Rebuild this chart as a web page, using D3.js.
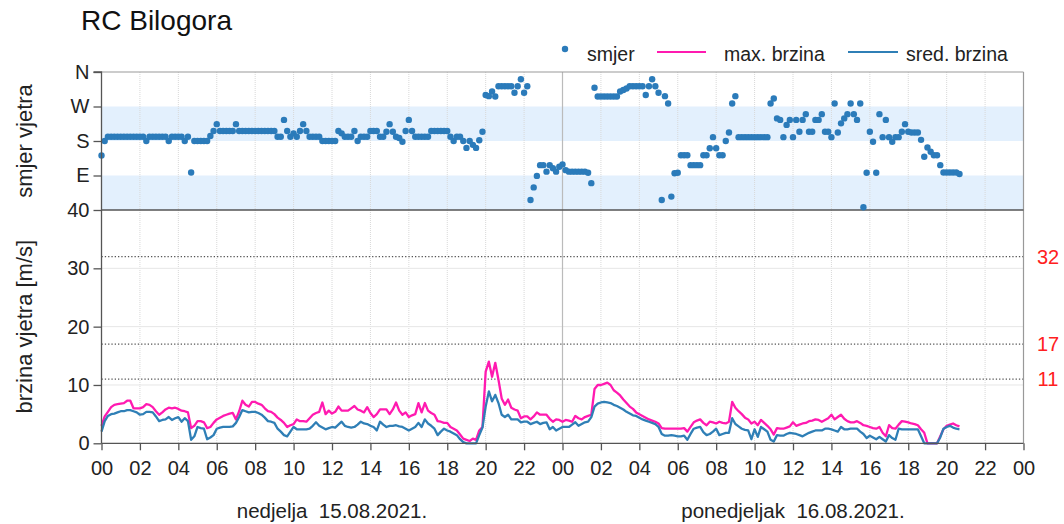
<!DOCTYPE html>
<html>
<head>
<meta charset="utf-8">
<script src="https://cdn.jsdelivr.net/npm/d3@7"></script>
<style>
  body { margin: 0; background: #fff; }
  svg { display: block; font-family: "Liberation Sans", Arial, sans-serif; }
</style>
</head>
<body>
<div id="chart"></div>
<script>
// ---------------------------------------------------------
//  RC Bilogora: wind direction + wind speed, 10-minute data
// ---------------------------------------------------------
const stepHours = 1 / 6; // one reading every 10 minutes, from 15.08. 00:00

// wind direction in degrees
const smjer = [
  142,180,191,191,191,191,191,191,191,191,191,191,191,191,180,191,191,191,191,191,
  191,180,191,191,191,191,180,191,98,180,180,180,180,180,193,206,224,206,206,206,
  206,206,224,206,206,206,206,206,206,206,206,206,206,206,206,191,191,235,206,191,
  200,191,206,224,206,191,191,191,191,180,180,180,180,180,206,200,191,191,191,206,
  180,191,191,191,206,206,206,191,191,204,224,204,191,188,178,206,235,206,191,191,
  191,191,191,206,206,206,206,206,206,191,180,191,191,180,162,180,170,162,182,204,
  300,297,309,296,323,323,323,323,323,306,323,341,306,323,26,59,89,117,117,100,
  117,109,100,113,119,104,100,100,100,100,100,100,97,70,319,296,296,296,296,296,
  296,296,309,313,317,323,323,323,323,323,300,323,341,323,306,26,297,278,35,96,
  97,143,143,143,117,117,117,117,143,143,161,190,161,143,143,180,202,278,297,190,
  190,190,190,190,190,190,190,190,190,278,291,239,235,190,222,235,190,235,204,235,
  250,204,204,235,235,250,204,204,190,278,202,226,239,250,278,250,235,278,7,97,
  204,178,97,250,190,235,190,178,190,190,204,224,204,202,202,202,183,139,163,152,
  143,143,117,98,98,98,98,98,94
];

// max. wind speed [m/s]
const maxBrzina = [
  3.0,4.6,5.4,6.2,6.6,6.7,6.8,6.9,7.3,7.3,6.0,6.0,6.0,6.2,6.7,6.6,6.2,5.5,4.9,5.3,
  5.8,6.1,6.0,6.1,5.9,5.6,5.5,5.3,2.6,3.0,3.8,3.8,3.6,2.6,2.8,3.5,4.1,4.4,4.7,4.9,
  5.1,5.2,4.1,5.5,7.3,6.6,6.3,7.1,7.1,6.8,6.6,6.0,5.5,5.4,5.0,4.4,4.0,3.5,2.8,3.1,
  3.3,4.1,3.8,3.8,3.7,4.3,4.9,5.2,5.4,7.0,5.0,5.6,5.1,5.4,6.3,5.6,5.6,5.6,6.0,6.4,
  5.8,5.6,5.3,6.2,5.2,4.5,5.0,5.8,5.8,5.8,5.0,5.8,7.0,5.6,4.9,5.3,4.5,4.8,5.0,6.9,
  5.3,6.9,5.6,5.2,4.9,3.8,3.7,3.5,3.5,2.8,2.5,2.2,1.5,0.8,0.6,0.4,0.8,0.6,2.2,2.8,
  12.3,14.0,11.4,13.8,10.9,7.7,6.6,7.5,6.1,5.8,5.6,4.3,4.6,4.6,4.1,4.6,5.3,4.9,4.9,4.9,
  4.2,3.7,4.1,4.0,3.7,4.0,3.9,3.7,4.7,4.3,4.1,4.5,4.7,4.9,9.3,10.0,10.0,10.2,10.4,10.0,
  9.1,8.7,8.2,7.5,6.9,6.3,5.9,5.3,5.0,4.7,4.4,4.1,3.9,3.7,3.4,2.6,2.5,2.5,2.5,2.5,
  2.5,2.5,2.6,2.0,2.8,3.6,3.9,4.1,3.5,3.1,3.7,3.6,3.4,3.7,3.5,3.4,3.7,7.1,6.1,5.5,
  5.0,4.4,4.1,3.4,3.7,3.1,4.0,3.5,3.0,2.4,1.5,2.6,2.5,2.5,2.7,2.9,3.6,3.0,3.2,3.4,
  3.5,3.8,3.9,4.1,4.0,3.7,4.0,4.3,4.9,4.1,4.5,4.9,4.2,3.8,3.6,3.6,3.8,3.5,3.1,3.0,
  2.8,2.6,2.5,2.8,1.8,1.2,3.1,2.6,2.5,3.2,3.8,3.7,3.6,3.4,3.3,3.1,2.4,1.8,0.0,0.0,
  0.0,0.0,1.2,2.4,3.0,3.2,3.4,3.1,2.9
];

// mean wind speed [m/s]
const sredBrzina = [
  2.0,3.8,4.7,5.0,5.1,5.3,5.5,5.5,5.7,5.7,5.5,5.3,4.9,5.0,5.4,5.4,5.3,4.6,3.8,4.0,
  4.1,4.5,4.0,4.3,4.5,3.7,4.3,3.8,0.6,1.2,2.8,2.6,2.5,0.7,1.0,1.4,2.5,2.7,2.8,2.8,
  2.8,2.9,3.5,4.5,5.7,5.5,5.3,5.4,5.4,5.2,4.9,4.4,3.8,3.7,3.5,2.5,2.0,1.4,1.2,2.0,
  2.8,2.4,2.4,2.4,2.4,2.5,3.0,3.6,3.0,2.7,2.4,2.6,2.8,2.7,3.2,3.7,3.0,2.8,2.7,2.8,
  3.2,3.7,3.4,3.3,3.0,2.8,2.2,3.7,3.2,2.8,3.0,3.0,3.1,2.9,2.8,2.5,2.2,2.5,2.8,3.5,
  2.8,4.1,3.4,3.0,2.5,1.4,2.0,2.5,2.2,2.0,1.7,1.4,0.7,0.2,0.0,0.0,0.0,0.0,1.4,2.7,
  6.3,8.9,7.2,8.3,6.9,4.9,4.5,4.9,4.1,4.1,4.1,3.6,3.7,3.7,3.3,3.5,3.7,3.3,3.5,3.6,
  2.4,2.8,2.2,2.5,2.8,2.8,2.8,3.2,3.6,3.0,3.3,3.6,3.7,4.5,6.3,6.8,7.0,7.1,7.0,6.9,
  6.6,6.4,6.1,5.8,5.4,5.1,4.8,4.7,4.4,4.1,3.9,3.7,3.5,3.3,2.8,1.6,1.3,1.3,1.4,1.3,
  1.2,1.2,1.3,0.6,1.6,2.5,2.7,2.8,1.9,1.4,1.6,2.0,2.5,1.4,1.6,1.8,1.8,4.3,3.3,2.9,
  2.5,2.3,2.2,0.7,2.4,1.1,2.8,2.4,2.0,0.6,0.3,1.4,1.3,1.3,1.6,1.8,1.7,1.6,1.4,1.2,
  1.5,1.8,2.0,2.2,2.2,2.2,2.5,2.5,2.4,2.2,2.0,2.8,2.4,2.4,2.5,2.5,2.5,2.0,1.6,0.9,
  1.3,1.0,0.7,1.1,0.7,0.3,1.4,0.9,0.6,2.5,2.4,2.4,2.4,2.4,2.4,2.4,1.2,0.0,0.0,0.0,
  0.0,0.0,1.0,2.5,2.8,3.0,2.7,2.5,2.4
];

const hourTicks  = [0,2,4,6,8,10,12,14,16,18,20,22,24,26,28,30,32,34,36,38,40,42,44,46,48];
const hourLabels = ['00','02','04','06','08','10','12','14','16','18','20','22',
                    '00','02','04','06','08','10','12','14','16','18','20','22','00'];
const dayLabels  = ['nedjelja  15.08.2021.', 'ponedjeljak  16.08.2021.'];
const dayCenters = [12, 36];

const dirTicks  = [360, 270, 180, 90];
const dirLabels = ['N', 'W', 'S', 'E'];
const dirBands  = [[0, 90], [180, 270]];

const speedTicks  = [0, 10, 20, 30, 40];
const speedLimits = [11, 17, 32];

const COL_DIR = '#2b7bba';
const COL_MAX = '#ff1ab0';
const COL_AVG = '#2f7fb6';

const W = 1064, H = 524;
const left = 101.5, right = 1023.5;
const topY = 72, midY = 210, botY = 443.3;

const svg = d3.select('#chart').append('svg')
  .attr('width', W).attr('height', H)
  .attr('viewBox', `0 0 ${W} ${H}`);

const x  = d3.scaleLinear().domain([0, 48]).range([left, right]);
const yD = d3.scaleLinear().domain([0, 360]).range([midY, topY]);
const yS = d3.scaleLinear().domain([0, 40]).range([botY, midY]);

// title
svg.append('text')
  .attr('x', 81).attr('y', 30)
  .attr('font-size', 28).attr('fill', '#111')
  .text('RC Bilogora');

// bands in direction panel
svg.append('g').selectAll('rect')
  .data(dirBands)
  .join('rect')
  .attr('x', left).attr('width', right - left)
  .attr('y', d => yD(d[1]))
  .attr('height', d => yD(d[0]) - yD(d[1]))
  .attr('fill', '#e3f0fd');

// grid
const grid = svg.append('g');
grid.selectAll('line.v')
  .data(hourTicks.filter(h => h > 0 && h < 48 && h !== 24))
  .join('line')
  .attr('x1', d => x(d)).attr('x2', d => x(d))
  .attr('y1', topY).attr('y2', botY)
  .attr('stroke', '#d8d8d8').attr('stroke-width', 1)
  .attr('stroke-dasharray', '1,1');
grid.selectAll('line.h')
  .data([10, 20, 30])
  .join('line')
  .attr('x1', left).attr('x2', right)
  .attr('y1', d => yS(d)).attr('y2', d => yS(d))
  .attr('stroke', '#e6e6e6').attr('stroke-width', 1);
// midnight
grid.append('line')
  .attr('x1', x(24)).attr('x2', x(24))
  .attr('y1', topY).attr('y2', botY)
  .attr('stroke', '#bbbbbb').attr('stroke-width', 1.2);

// limit lines
svg.append('g').selectAll('line')
  .data(speedLimits)
  .join('line')
  .attr('x1', left).attr('x2', right)
  .attr('y1', d => yS(d)).attr('y2', d => yS(d))
  .attr('stroke', '#555').attr('stroke-width', 1.3)
  .attr('stroke-dasharray', '1.3,2');
svg.append('g').selectAll('text')
  .data(speedLimits)
  .join('text')
  .attr('x', 1048).attr('y', d => yS(d) + 7)
  .attr('text-anchor', 'middle')
  .attr('font-size', 20).attr('fill', '#ff2020')
  .text(d => d);

// frame
svg.append('line').attr('x1', left).attr('x2', right).attr('y1', topY).attr('y2', topY)
  .attr('stroke', '#999').attr('stroke-width', 1.2);
svg.append('line').attr('x1', right).attr('x2', right).attr('y1', topY).attr('y2', botY)
  .attr('stroke', '#999').attr('stroke-width', 1.2);
svg.append('line').attr('x1', left).attr('x2', right).attr('y1', midY).attr('y2', midY)
  .attr('stroke', '#555').attr('stroke-width', 1.3);

// speed lines
const hourOf = i => i * stepHours;
const line = d3.line().x((d, i) => x(hourOf(i))).y(d => yS(d));
svg.append('path').datum(maxBrzina)
  .attr('d', line).attr('fill', 'none')
  .attr('stroke', COL_MAX).attr('stroke-width', 2.3).attr('stroke-linejoin', 'round');
svg.append('path').datum(sredBrzina)
  .attr('d', line).attr('fill', 'none')
  .attr('stroke', COL_AVG).attr('stroke-width', 2.3).attr('stroke-linejoin', 'round');

// direction dots
svg.append('g').selectAll('circle')
  .data(smjer)
  .join('circle')
  .attr('cx', (d, i) => x(hourOf(i)))
  .attr('cy', d => yD(d))
  .attr('r', 3.2)
  .attr('fill', COL_DIR);

// axes
const axisDir = d3.axisLeft(yD).tickValues(dirTicks)
  .tickFormat((d, i) => dirLabels[i]).tickSize(8).tickPadding(4);
const axisSpd = d3.axisLeft(yS).tickValues(speedTicks).tickSize(8).tickPadding(4);
const axisX = d3.axisBottom(x).tickValues(hourTicks)
  .tickFormat((d, i) => hourLabels[i]).tickSize(7).tickPadding(11);

function styleAxis(g) {
  g.select('.domain').attr('stroke', '#555').attr('stroke-width', 1.3);
  g.selectAll('.tick line').attr('stroke', '#555').attr('stroke-width', 1.3);
  g.selectAll('.tick text')
    .attr('font-family', '"Liberation Sans", Arial, sans-serif')
    .attr('font-size', 20).attr('fill', '#222');
}

svg.append('g').attr('transform', `translate(${left},0)`)
  .call(axisDir).call(styleAxis)
  .call(g => g.select('.domain').attr('d', `M-8,${topY}H0V${midY}`));
svg.append('g').attr('transform', `translate(${left},0)`)
  .call(axisSpd).call(styleAxis)
  .call(g => g.select('.domain').attr('d', `M0,${midY}V${botY}`));
svg.append('g').attr('transform', `translate(0,${botY})`)
  .call(axisX).call(styleAxis)
  .call(g => g.select('.domain').attr('d', `M${left},0H${right}`));

// day labels
svg.append('g').selectAll('text')
  .data(dayLabels)
  .join('text')
  .attr('x', (d, i) => x(dayCenters[i]))
  .attr('y', 518)
  .attr('text-anchor', 'middle')
  .attr('font-size', 20.5).attr('fill', '#222')
  .style('white-space', 'pre')
  .text(d => d);

// y titles
svg.append('text')
  .attr('transform', `translate(32,${(topY + midY) / 2}) rotate(-90)`)
  .attr('text-anchor', 'middle')
  .attr('font-size', 22).attr('fill', '#222')
  .text('smjer vjetra');
svg.append('text')
  .attr('transform', `translate(32,${(midY + botY) / 2}) rotate(-90)`)
  .attr('text-anchor', 'middle')
  .attr('font-size', 22).attr('fill', '#222')
  .text('brzina vjetra [m/s]');

// legend
const lg = svg.append('g').attr('font-size', 19.5).attr('fill', '#222');
lg.append('circle').attr('cx', 565).attr('cy', 49).attr('r', 3.2).attr('fill', COL_DIR);
lg.append('text').attr('x', 587).attr('y', 61).text('smjer');
lg.append('line').attr('x1', 657).attr('x2', 706).attr('y1', 52).attr('y2', 52)
  .attr('stroke', COL_MAX).attr('stroke-width', 2);
lg.append('text').attr('x', 724).attr('y', 61).text('max. brzina');
lg.append('line').attr('x1', 848).attr('x2', 898).attr('y1', 52).attr('y2', 52)
  .attr('stroke', COL_AVG).attr('stroke-width', 2);
lg.append('text').attr('x', 906).attr('y', 61).text('sred. brzina');
</script>
</body>
</html>
